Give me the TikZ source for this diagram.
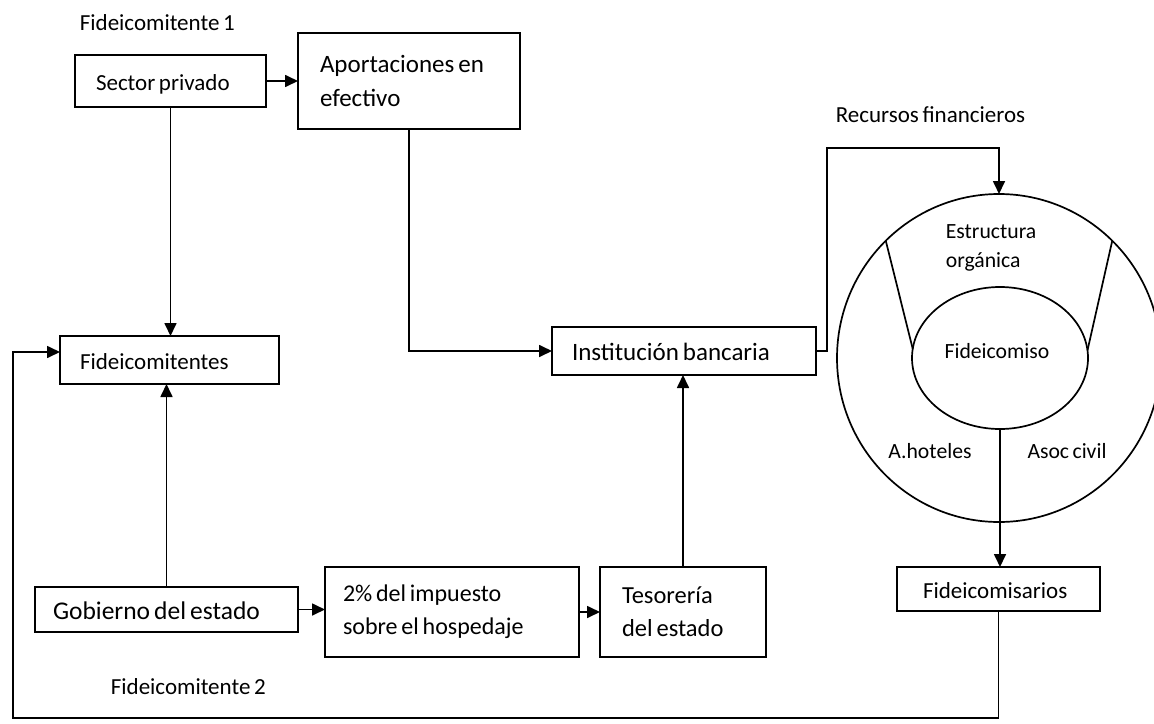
\documentclass[tikz,border=0pt]{standalone}
\usepackage{fontspec}
\setmainfont{Carlito}[WordSpace=0.7]
\usetikzlibrary{arrows.meta,shapes.geometric}
\begin{document}
\begin{tikzpicture}[x=1pt,y=-1pt,
  line width=1.7pt,
  >={Triangle[length=13pt,width=12pt]},
  box/.style={draw, rectangle, align=flush left, inner ysep=0pt, outer sep=0pt},
  oneline/.style={text height=19pt, text depth=0pt},
  lbl/.style={inner sep=0pt, align=left},
  fa/.style={font=\fontsize{23}{28}\selectfont},
  fb/.style={font=\fontsize{24.5}{33}\selectfont},
  fc/.style={font=\fontsize{21.7}{29}\selectfont},
  ring/.style={draw, ellipse, inner sep=0pt, outer sep=0pt}
]
\useasboundingbox (0,0) rectangle (1154,723);
\clip (0,0) rectangle (1154,723);

% upper row
\node[lbl, fa, anchor=west] (f1) at (79,23) {Fideicomitente 1};
\node[box, oneline, fa, minimum width=191pt, minimum height=52pt, text width=149pt, inner xsep=21pt] (sec) at (170.5,81) {Sector privado};
\node[box, font=\fontsize{25}{34}\selectfont, minimum width=222pt, minimum height=96pt, text width=178pt, inner xsep=22pt] (apo) at (409,81) {Aportaciones en\\efectivo};

% middle row
\node[box, oneline, fa, minimum width=219pt, minimum height=48pt, text width=179pt, inner xsep=20pt] (fidtes) at (169.5,360) {Fideicomitentes};
\node[box, oneline, font=\fontsize{25}{33}\selectfont, minimum width=264pt, minimum height=48pt, text width=224pt, inner xsep=20pt] (inst) at (684,351) {Institución bancaria};

% lower row
\node[box, oneline, font=\fontsize{25.5}{33}\selectfont, minimum width=263pt, minimum height=45pt, text width=227pt, inner xsep=18pt] (gob) at (166.5,609.5) {Gobierno del estado};
\node[box, font=\fontsize{24}{33}\selectfont, minimum width=254pt, minimum height=90pt, text width=218pt, inner xsep=18pt] (pct) at (452,612) {2\% del impuesto\\sobre el hospedaje};
\node[box, fb, minimum width=166pt, minimum height=90pt, text width=122pt, inner xsep=22pt] (tes) at (683,612) {Tesorería\\del estado};
\node[lbl, fa, anchor=west] (f2) at (110,687) {Fideicomitente 2};

% trust structure
\node[lbl, fa, anchor=west] (rec) at (835,115) {Recursos financieros};
\node[ring, minimum width=324pt, minimum height=328pt] (outer) at (999,358) {};
\node[ring, minimum width=176pt, minimum height=142pt] (inner) at (1000,358) {};
\draw (outer.134) -- (inner.174);
\draw (outer.46) -- (inner.5);
\node[lbl, fc, anchor=west] (estr) at (945,248) {Estructura\\orgánica};
\node[lbl, fc] (fcomiso) at (997,351) {Fideicomiso};
\node[lbl, fc] (ahot) at (930,451) {A.hoteles};
\node[lbl, fc] (asoc) at (1067,451) {Asoc civil};
\node[box, oneline, fa, minimum width=203pt, minimum height=44pt, text width=151pt, inner xsep=26pt] (fmis) at (998.5,589) {Fideicomisarios};

% route points
\coordinate (rf) at (827,148);
\coordinate (bl) at (13,718);
\coordinate (tl) at (13,352);

% connectors
\draw[->] (sec.east) -- (sec.east -| apo.west);
\draw[->] (sec.south) -- (sec.south |- fidtes.north);
\draw[->] (apo.south) |- (inst.west);
\draw[->] (gob.north) -- (gob.north |- fidtes.south);
\draw[->] (gob.east) -- (gob.east -| pct.west);
\draw[->] (pct.east) -- (pct.east -| tes.west);
\draw[->] (tes.north) -- (tes.north |- inst.south);
\draw[->] (inst.east) -| (rf) -| (outer.north);
\draw[->] (inner.south) -- (inner.south |- fmis.north);
\draw[->] (fmis.south) |- (bl) -- (tl) -- (tl -| fidtes.west);
\end{tikzpicture}
\end{document}
